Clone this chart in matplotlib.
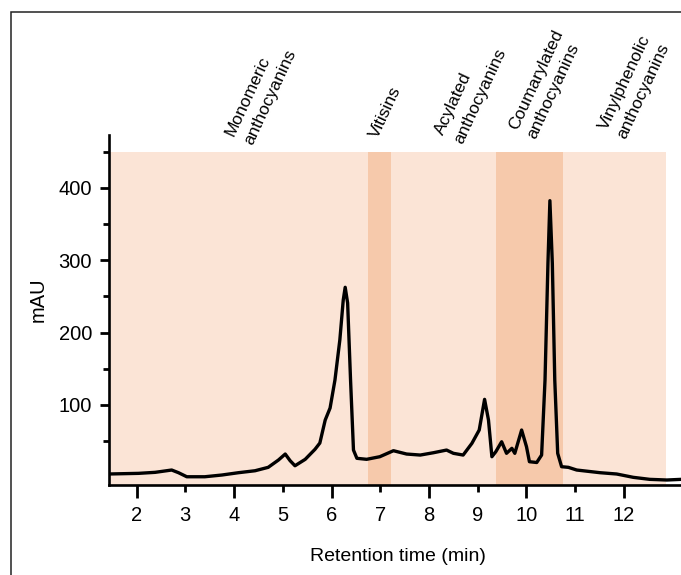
import matplotlib
import matplotlib.pyplot as plt
from matplotlib.patches import Rectangle

matplotlib.use("Agg")
plt.rcParams["font.family"] = ["Liberation Sans", "DejaVu Sans"]

# chromatogram trace: retention time (min) vs absorbance (mAU)
rt = [1.42, 2.04, 2.38, 2.72, 2.86, 3.03, 3.40, 3.75, 4.09, 4.43,
      4.70, 4.91, 5.05, 5.15, 5.25, 5.46, 5.66, 5.76, 5.87, 5.97,
      6.07, 6.17, 6.24, 6.28, 6.33, 6.39, 6.45, 6.52, 6.72, 6.99,
      7.27, 7.54, 7.82, 8.09, 8.36, 8.50, 8.70, 8.88, 9.03, 9.14,
      9.22, 9.29, 9.37, 9.49, 9.59, 9.70, 9.76, 9.90, 10.00, 10.06,
      10.21, 10.31, 10.38, 10.44, 10.48, 10.53, 10.58, 10.64, 10.72, 10.86,
      11.03, 11.51, 11.85, 12.19, 12.53, 12.88, 13.17]
mau = [4.6, 5.5, 6.9, 10.1, 6.4, 0.8, 0.8, 3.2, 6.4, 9.1,
       13.8, 23.9, 32.2, 23.0, 16.0, 24.9, 38.7, 47.4, 79.2, 95.8,
       134.5, 189.8, 245.0, 262.7, 241.0, 134.5, 37.7, 26.3, 24.9, 28.5,
       36.8, 32.2, 30.8, 34.0, 37.7, 33.2, 30.8, 47.0, 65.4, 107.8,
       79.2, 28.5, 35.4, 49.2, 33.2, 40.1, 33.2, 65.4, 42.3, 21.6,
       20.5, 30.8, 134.5, 295.9, 382.4, 295.9, 134.5, 33.2, 14.7, 13.8,
       10.1, 6.4, 4.6, 0.0, -2.8, -3.7, -2.8]

# elution windows of the compound groups
group_names = ["Monomeric\nanthocyanins", "Vitisins", "Acylated\nanthocyanins",
               "Coumarylated\nanthocyanins", "Vinylphenolic\nanthocyanins"]
group_start = [1.43, 6.74, 7.22, 9.37, 10.74]
group_end = [6.74, 7.22, 9.37, 10.74, 12.86]
group_top = 450

# layout
XLIM = (1.434, 13.17)
YLIM = (-10.6, 473.2)
LIGHT = "#FBE4D6"
DARK = "#F6C9AB"
band_colors = [LIGHT, DARK, LIGHT, DARK, LIGHT]
label_x = [4.28, 6.95, 8.58, 10.09, 11.93]
label_y = [462, 468, 463, 470, 470]


def main():
    fig = plt.figure(figsize=(6.81, 5.75), dpi=100)
    ax = fig.add_axes([109 / 681, 90 / 575, 572 / 681, 350 / 575])

    for x0, x1, c in zip(group_start, group_end, band_colors):
        ax.fill_between([x0, x1], YLIM[0], group_top, color=c, lw=0, zorder=0)

    ax.plot(rt, mau, color="black", lw=2.4, solid_joinstyle="round", zorder=3)

    for name, x, y in zip(group_names, label_x, label_y):
        ax.text(x, y, name, rotation=65, rotation_mode="anchor", ha="left",
                va="baseline", fontsize=12.5, linespacing=1.45, clip_on=False)

    ax.set_xlim(*XLIM)
    ax.set_ylim(*YLIM)

    for s in ["top", "right"]:
        ax.spines[s].set_visible(False)
    for s in ["left", "bottom"]:
        ax.spines[s].set_linewidth(1.9)

    ax.set_xticks([2, 4, 6, 8, 10, 12])
    ax.set_xticks([3, 5, 7, 9, 11], minor=True)
    ax.set_xticklabels(["3", "5", "7", "9", "11"], minor=True)
    ax.set_yticks([100, 200, 300, 400])
    ax.set_yticks([50, 150, 250, 350, 450], minor=True)

    ax.tick_params(axis="x", which="major", length=9.4, width=2, pad=5.8, labelsize=14.5)
    ax.tick_params(axis="x", which="minor", length=5, width=2, pad=10.2, labelsize=14.5)
    ax.tick_params(axis="y", which="major", length=6.8, width=2, pad=5.5, labelsize=14.5)
    ax.tick_params(axis="y", which="minor", length=4.3, width=2)

    ax.set_xlabel("Retention time (min)", fontsize=14)
    ax.set_ylabel("mAU", fontsize=14.5)
    ax.xaxis.set_label_coords(0.505, -0.18)
    ax.yaxis.set_label_coords(-0.108, 0.53)

    # thin frame round the panel (cut by the image edge)
    fig.add_artist(Rectangle((11 / 681, -0.1), 2, 1 - 12 / 575 + 0.1,
                             transform=fig.transFigure, fill=False,
                             lw=1.1, ec="#222222"))

    fig.savefig("out.png", dpi=100)
    plt.close(fig)


if __name__ == "__main__":
    main()
